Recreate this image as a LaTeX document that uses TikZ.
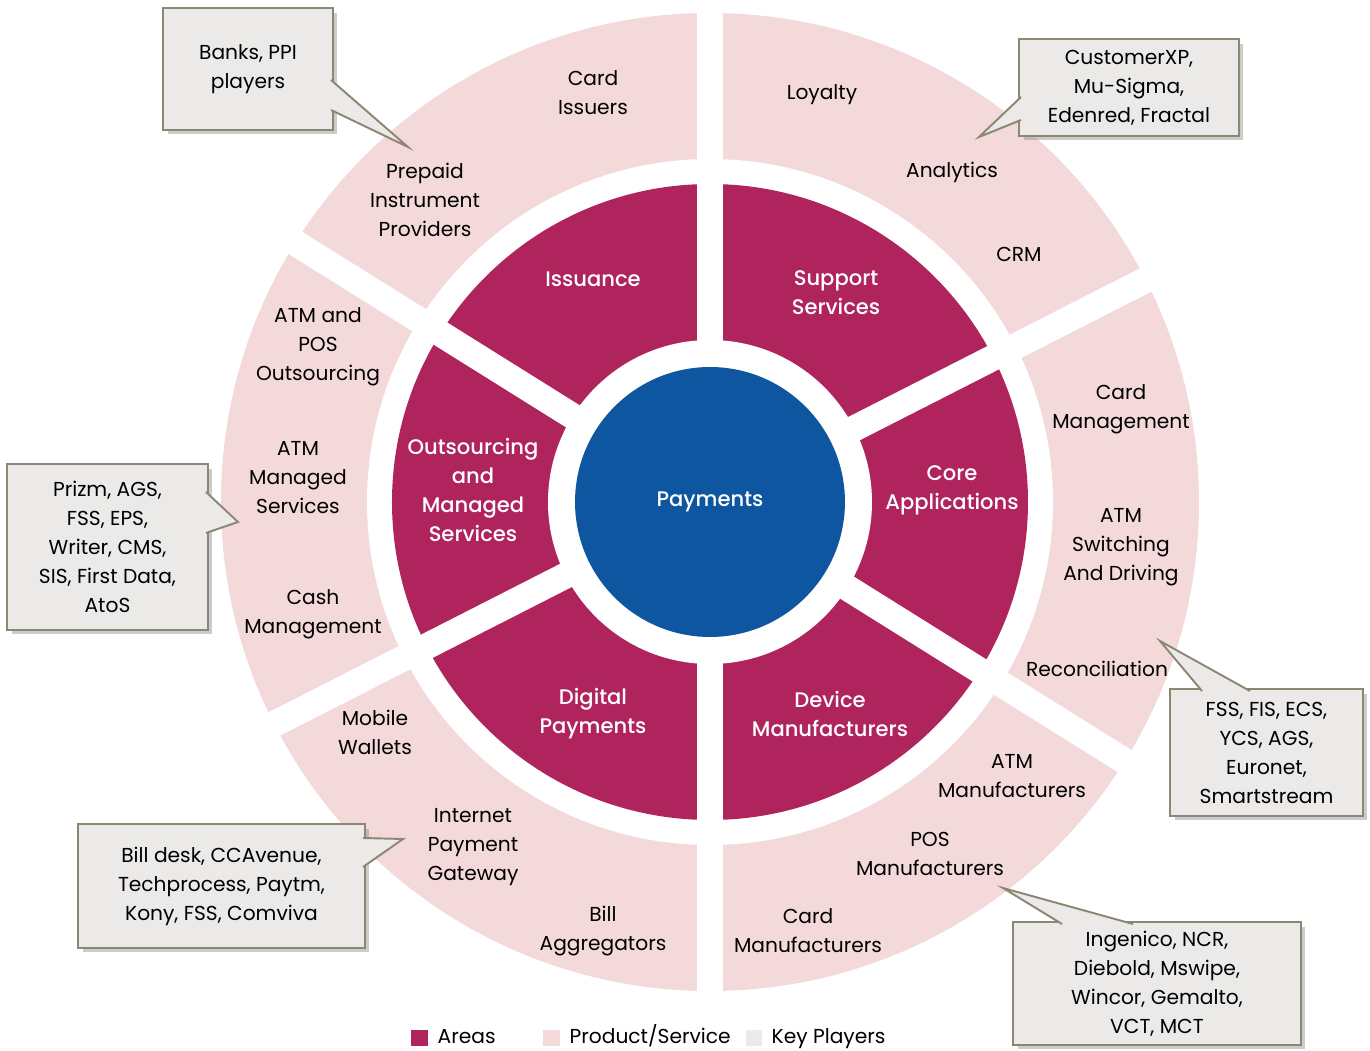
\documentclass[tikz,border=0pt]{standalone}
\usepackage{fontspec}
\setmainfont{Poppins}[BoldFont={Poppins Medium}]
\usetikzlibrary{positioning, shadows}

\definecolor{areacol}{RGB}{176,36,94}
\definecolor{prodcol}{RGB}{244,217,218}
\definecolor{paycol}{RGB}{14,87,160}
\definecolor{kpfill}{RGB}{235,234,232}
\definecolor{kpline}{RGB}{140,135,115}
\definecolor{kplegend}{RGB}{234,234,234}

\begin{document}
\begin{tikzpicture}[
		x=0.02cm, y=0.02cm,
		every node/.style={align=center, inner sep=2pt, font=\fontsize{11.5}{16.5}\selectfont},
		prod/.style={text=black},
		area/.style={text=white, font=\fontsize{12}{16.5}\selectfont\bfseries},
		player/.style={rectangle, fill=kpfill, draw=kpline, line width=1.1pt, inner sep=0pt,
			drop shadow={shadow xshift=0.09cm, shadow yshift=-0.09cm, opacity=0.4}},
		pointer/.style={fill=kpfill, draw=kpline, line width=1.1pt},
		legbox/.style={rectangle, minimum size=0.34cm, inner sep=0pt},
		legtxt/.style={text height=1.6ex, text depth=0.4ex}
	]
  \useasboundingbox (-710,502) rectangle (660,-549);

  % rings and gaps
  \fill[prodcol] (0,0) circle (489);
  \fill[white] (0,0) circle (343);
  \fill[areacol] (0,0) circle (318);
  \fill[white] (0,0) circle (162);
  \foreach \ang in {27, 90, 148}
    \draw[white, line width=0.52cm] (\ang:500) -- (\ang+180:500);
  \node (pay) [circle, fill=paycol, minimum size=5.4cm, area] at (0,0) {Payments};

  % areas
  \node (issu) [area] at (-117,223) {Issuance};
  \node (supp) [area] at (126,209) {Support\\Services};
  \node (outs) [area] at (-237,12) {Outsourcing\\and\\Managed\\Services};
  \node (core) [area] at (242,12) {Core\\Applications};
  \node (digi) [area] at (-117,-212) {Digital\\Payments};
  \node (devi) [area] at (120,-212) {Device\\Manufacturers};

  % products and services
  \node (cardiss) [prod] at (-117,409) {Card\\Issuers};
  \node (prepaid) [prod] at (-285,302) {Prepaid\\Instrument\\Providers};
  \node (loyal) [prod] at (112,407) {Loyalty};
  \node (analyt) [prod] at (242,330) {Analytics};
  \node (crm) [prod] at (309,248) {CRM};
  \node (cardmgmt) [prod] at (411,93) {Card\\Management};
  \node (atmswitch) [prod] at (411,-45) {ATM\\Switching\\And Driving};
  \node (recon) [prod] at (387,-167) {Reconciliation};
  \node (atmman) [prod] at (302,-274) {ATM\\Manufacturers};
  \node (posman) [prod] at (220,-352) {POS\\Manufacturers};
  \node (cardman) [prod] at (98,-429) {Card\\Manufacturers};
  \node (billagg) [prod] at (-107,-429) {Bill\\Aggregators};
  \node (ipg) [prod] at (-237,-345) {Internet\\Payment\\Gateway};
  \node (mobwal) [prod] at (-335,-230) {Mobile\\Wallets};
  \node (cashmgmt) [prod] at (-397,-112) {Cash\\Management};
  \node (atmmanaged) [prod] at (-412,24) {ATM\\Managed\\Services};
  \node (atmpos) [prod] at (-392,155) {ATM and\\POS\\Outsourcing};

  % key players
  \node (kpbanks) [player, minimum width=3.4cm, minimum height=2.44cm] at (-462,433) {Banks, PPI\\players};
  \node (kpanalyt) [player, minimum width=4.4cm, minimum height=1.94cm] at (419,414.5) {CustomerXP,\\Mu-Sigma,\\Edenred, Fractal};
  \node (kpoutsrc) [player, minimum width=4.02cm, minimum height=3.32cm] at (-602.5,-45) {Prizm, AGS,\\FSS, EPS,\\Writer, CMS,\\SIS, First Data,\\AtoS};
  \node (kpcore) [player, minimum width=3.86cm, minimum height=2.54cm] at (556.5,-250.5) {FSS, FIS, ECS,\\YCS, AGS,\\Euronet,\\Smartstream};
  \node (kpdigi) [player, minimum width=5.74cm, minimum height=2.48cm] at (-488.5,-384) {Bill desk, CCAvenue,\\Techprocess, Paytm,\\Kony, FSS, Comviva};
  \node (kpdevi) [player, minimum width=5.76cm, minimum height=2.46cm] at (447,-481.5) {Ingenico, NCR,\\Diebold, Mswipe,\\Wincor, Gemalto,\\VCT, MCT};

  \coordinate (tipbanks) at (-302,355);
  \coordinate (tipanalyt) at (269,365);
  \coordinate (tipoutsrc) at (-472,-20);
  \coordinate (tipcore) at (450,-139);
  \coordinate (tipdigi) at (-307,-337);
  \coordinate (tipdevi) at (293,-386);
  \path[pointer] (-379,422) -- (tipbanks) -- (-379,392);
  \path[pointer] (311,405) -- (tipanalyt) -- (311,382);
  \path[pointer] (-504,10) -- (tipoutsrc) -- (-504,-31);
  \path[pointer] (492,-189) -- (tipcore) -- (540,-189);
  \path[pointer] (-347,-336) -- (tipdigi) -- (-347,-365);
  \path[pointer] (352,-422) -- (tipdevi) -- (423,-422);

  % legend
  \node (legarea) [legbox, fill=areacol] at (-290,-536) {};
  \node (legareatxt) [legtxt, right=0.1cm of legarea] {Areas};
  \node (legprod) [legbox, fill=prodcol] at (-158,-536) {};
  \node (legprodtxt) [legtxt, right=0.1cm of legprod] {Product/Service};
  \node (legkp) [legbox, fill=kplegend] at (44,-536) {};
  \node (legkptxt) [legtxt, right=0.1cm of legkp] {Key Players};
\end{tikzpicture}
\end{document}
